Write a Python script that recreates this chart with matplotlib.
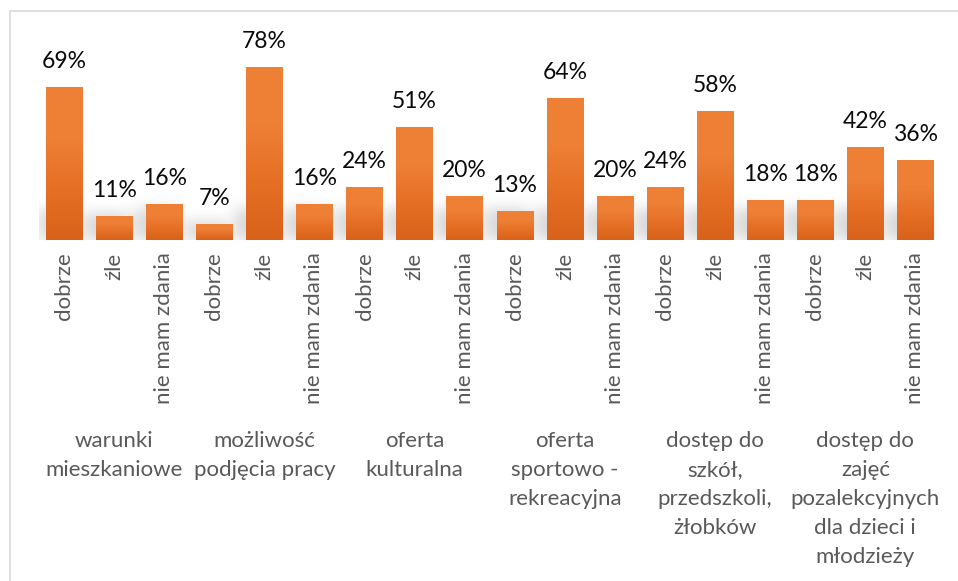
import numpy as np
import matplotlib
matplotlib.use("Agg")
import matplotlib.pyplot as plt
from matplotlib.colors import LinearSegmentedColormap

groups = ['warunki\nmieszkaniowe', 'możliwość\npodjęcia pracy', 'oferta\nkulturalna',
          'oferta\nsportowo -\nrekreacyjna', 'dostęp do\nszkół,\nprzedszkoli,\nżłobków',
          'dostęp do\nzajęć\npozalekcyjnych\ndla dzieci i\nmłodzieży']
answers = ['dobrze', 'źle', 'nie mam zdania']
dobrze = [69, 7, 24, 13, 24, 18]
zle = [11, 78, 51, 64, 58, 42]
brak_zdania = [16, 16, 20, 20, 18, 36]

values = []
for trio in zip(dobrze, zle, brak_zdania):
    values.extend(trio)
labels = answers * len(groups)
x = np.arange(len(values))

plt.rcParams['font.family'] = ['Lato', 'DejaVu Sans']

W, H = 958, 581
fig = plt.figure(figsize=(W / 100, H / 100), dpi=100)

# axes box in pixels: bars start at 39px, baseline at 240px
left, right, top, base = 39, 940.5, 20, 240
ax = fig.add_axes([left / W, 1 - base / H, (right - left) / W, (base - top) / H])
ax.set_xlim(-0.5, len(values) - 0.5)
ax.set_ylim(0, (base - top) / 2.22)

bar_w = 0.73
bars = ax.bar(x, values, width=bar_w, color='none', zorder=3)

# soft shadow near the baseline
sx = np.linspace(-0.5, len(values) - 0.5, 900)
sy = np.linspace(0, 30, 70)
mask = np.zeros((len(sy), len(sx)))
for xi, v in zip(x, values):
    inx = (sx > xi - bar_w / 2 - 0.22) & (sx < xi + bar_w / 2 - 0.1)
    iny = sy < min(v, 13) + 1
    mask[np.ix_(iny, inx)] = 1.0
k = np.exp(-0.5 * (np.arange(-20, 21) / 7.0) ** 2)
k /= k.sum()
mask = np.apply_along_axis(lambda r: np.convolve(r, k, mode='same'), 1, mask)
mask = np.apply_along_axis(lambda c: np.convolve(c, k, mode='same'), 0, mask)
shadow = np.zeros(mask.shape + (4,))
shadow[..., :3] = 0.45
shadow[..., 3] = mask * 0.28
ax.imshow(shadow, extent=(sx[0], sx[-1], 0, 30), origin='lower', aspect='auto',
          zorder=1, interpolation='bilinear')

# vertical gradient for each bar
cmap = LinearSegmentedColormap.from_list('orange', ['#D9621A', '#E56F25', '#EE8036', '#EE8137'])
grad = np.linspace(0, 1, 256).reshape(-1, 1)
for b in bars:
    x0, w, h = b.get_x(), b.get_width(), b.get_height()
    im = ax.imshow(grad, extent=(x0, x0 + w, 0, h), origin='lower', aspect='auto',
                   cmap=cmap, zorder=2, interpolation='bilinear')
    im.set_clip_path(b)

for xi, v in zip(x, values):
    ax.annotate(f'{v}%', (xi, v), xytext=(0, 15), textcoords='offset pixels',
                ha='center', va='bottom', fontsize=16.5, color='#0A0A0A')

ax.set_xticks(x)
ax.set_xticklabels(labels, rotation=90, fontsize=16, color='#595959')
ax.tick_params(axis='x', length=0, pad=9)
ax.set_yticks([])
for s in ax.spines.values():
    s.set_visible(False)

for gi, g in enumerate(groups):
    ax.annotate(g, (3 * gi + 1, 0), xytext=(0, -191), textcoords='offset pixels',
                ha='center', va='top', fontsize=16, color='#595959',
                linespacing=1.56, annotation_clip=False)

# outer chart border
fig.add_artist(plt.Line2D([10 / W, 10 / W], [0, 1 - 11 / H], color='#D9D9D9', lw=1.2,
                          transform=fig.transFigure))
fig.add_artist(plt.Line2D([10 / W, 1], [1 - 11 / H, 1 - 11 / H], color='#D9D9D9', lw=1.2,
                          transform=fig.transFigure))

fig.savefig('out.png', dpi=100)
